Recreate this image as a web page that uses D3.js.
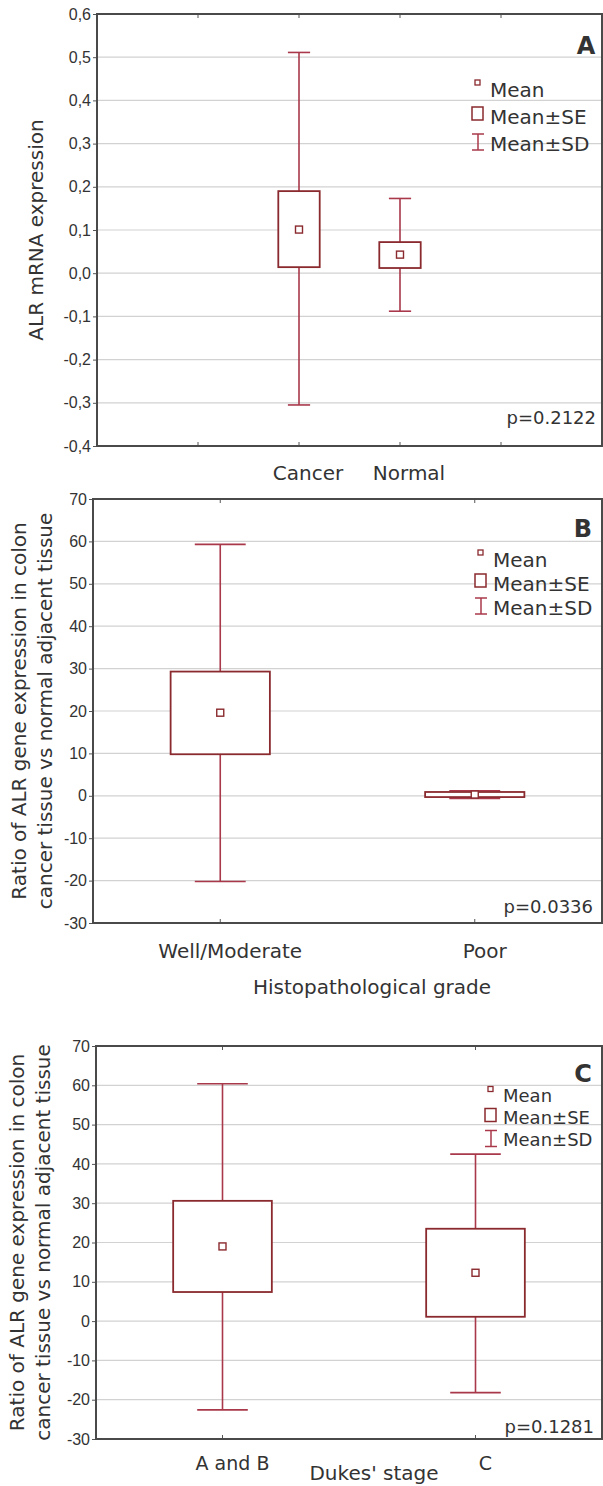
<!DOCTYPE html>
<html>
<head>
<meta charset="utf-8">
<script src="https://cdn.jsdelivr.net/npm/d3@7"></script>
<style>
  body { margin: 0; background: #fff; }
  svg { display: block; }
  text { font-family: "DejaVu Sans", sans-serif; fill: #333; }
  .tick text { font-family: "Liberation Sans", Arial, sans-serif; }
</style>
</head>
<body>
<svg width="603" height="1486"></svg>
<script>
const svg = d3.select("svg");

// Panel A: ALR mRNA expression, Cancer vs Normal (slots 1..4, labels on the middle two)
const slotsA = ["", "Cancer", "Normal", ""];
const groupsA = ["Cancer", "Normal"];
const meanA = [0.101, 0.043];
const seLowA = [0.014, 0.012];
const seHighA = [0.190, 0.072];
const sdLowA = [-0.305, -0.088];
const sdHighA = [0.511, 0.173];
const ticksA = [-0.4, -0.3, -0.2, -0.1, 0.0, 0.1, 0.2, 0.3, 0.4, 0.5, 0.6];

// Panel B: histopathological grade
const groupsB = ["Well/Moderate", "Poor"];
const meanB = [19.6, 0.3];
const seLowB = [9.8, -0.3];
const seHighB = [29.3, 0.9];
const sdLowB = [-20.2, -0.6];
const sdHighB = [59.3, 1.2];
const ticksB = [-30, -20, -10, 0, 10, 20, 30, 40, 50, 60, 70];

// Panel C: Dukes' stage
const groupsC = ["A and B", "C"];
const meanC = [19.0, 12.3];
const seLowC = [7.4, 1.1];
const seHighC = [30.6, 23.5];
const sdLowC = [-22.6, -18.2];
const sdHighC = [60.4, 42.5];
const ticksC = [-30, -20, -10, 0, 10, 20, 30, 40, 50, 60, 70];

const boxColor = "#8a2a2e";
const whiskColor = "#a8384a";

function drawPanel(p) {
  const g = svg.append("g");
  const x = d3.scalePoint().domain(p.slots).range([p.left, p.right]).padding(p.pad);
  const y = d3.scaleLinear().domain(d3.extent(p.ticks)).range([p.bottom, p.top]);

  // grid
  g.append("g").selectAll("line").data(p.ticks.slice(1, -1)).join("line")
    .attr("x1", p.left).attr("x2", p.right)
    .attr("y1", d => y(d)).attr("y2", d => y(d))
    .attr("stroke", "#d2d2d2").attr("stroke-width", 1.2);

  // left axis
  const yAxis = g.append("g").attr("transform", `translate(${p.left},0)`)
    .call(d3.axisLeft(y).tickValues(p.ticks).tickSize(4).tickPadding(2).tickFormat(p.fmt));
  yAxis.select(".domain").remove();
  yAxis.selectAll(".tick line").attr("stroke", "#555");
  yAxis.selectAll(".tick text").attr("font-size", 16).attr("fill", "#333");

  // bottom and top ticks (inward)
  const xs = p.slots.map(s => x(s));
  g.append("g").selectAll("line").data(xs).join("line")
    .attr("x1", d => d).attr("x2", d => d).attr("y1", p.bottom).attr("y2", p.bottom - 4)
    .attr("stroke", "#555");
  g.append("g").selectAll("line").data(xs).join("line")
    .attr("x1", d => d).attr("x2", d => d).attr("y1", p.top).attr("y2", p.top + 4)
    .attr("stroke", "#555");

  // x labels
  g.append("g").selectAll("text").data(p.groups).join("text")
    .attr("x", d => x(d) + p.labelDx).attr("y", p.labelY)
    .attr("text-anchor", "middle").attr("font-size", p.labelSize)
    .text(d => d);

  // whiskers (mean ± SD)
  const step = x.step();
  const bw = step * p.boxFrac / 2;
  const cw = step * p.capFrac / 2;
  const items = p.groups.map((gName, i) => ({
    g: gName, mean: p.mean[i], seL: p.seLow[i], seH: p.seHigh[i], sdL: p.sdLow[i], sdH: p.sdHigh[i]
  }));
  const wk = g.append("g").attr("stroke", whiskColor).attr("stroke-width", 1.6);
  wk.selectAll(".v").data(items).join("line")
    .attr("x1", d => x(d.g)).attr("x2", d => x(d.g))
    .attr("y1", d => y(d.sdL)).attr("y2", d => y(d.sdH));
  wk.selectAll(".ch").data(items).join("line")
    .attr("x1", d => x(d.g) - cw).attr("x2", d => x(d.g) + cw)
    .attr("y1", d => y(d.sdH)).attr("y2", d => y(d.sdH));
  wk.selectAll(".cl").data(items).join("line")
    .attr("x1", d => x(d.g) - cw).attr("x2", d => x(d.g) + cw)
    .attr("y1", d => y(d.sdL)).attr("y2", d => y(d.sdL));

  // boxes (mean ± SE)
  g.append("g").selectAll("rect").data(items).join("rect")
    .attr("x", d => x(d.g) - bw).attr("width", bw * 2)
    .attr("y", d => y(d.seH)).attr("height", d => y(d.seL) - y(d.seH))
    .attr("fill", "#fff").attr("stroke", boxColor).attr("stroke-width", 1.8);

  // mean markers
  g.append("g").selectAll("rect").data(items).join("rect")
    .attr("x", d => x(d.g) - 3.5).attr("y", d => y(d.mean) - 3.5)
    .attr("width", 7).attr("height", 7)
    .attr("fill", "#fff").attr("stroke", boxColor).attr("stroke-width", 1.4);

  // frame
  g.append("rect").attr("x", p.left).attr("y", p.top)
    .attr("width", p.right - p.left).attr("height", p.bottom - p.top)
    .attr("fill", "none").attr("stroke", "#4a4a4a").attr("stroke-width", 2);

  // panel letter
  g.append("text").attr("x", p.letterX).attr("y", p.letterY)
    .attr("text-anchor", "middle").attr("font-size", 24).attr("font-weight", "bold")
    .attr("fill", "#111").text(p.letter);

  // p value
  g.append("text").attr("x", p.pX).attr("y", p.pY).attr("text-anchor", "end")
    .attr("font-size", 18).text(p.pText);

  // legend
  const lg = g.append("g").attr("transform", `translate(${p.legX},${p.legY})`);
  const ls = p.legSize;
  lg.append("rect").attr("x", -3).attr("y", -ls * 0.75).attr("width", 5).attr("height", 5)
    .attr("fill", "#fff").attr("stroke", boxColor).attr("stroke-width", 1.3);
  lg.append("rect").attr("x", -6).attr("y", p.legGap - ls * 0.75).attr("width", 11).attr("height", 13)
    .attr("fill", "#fff").attr("stroke", boxColor).attr("stroke-width", 1.5);
  const iy = p.legGap * 2 - ls * 0.75;
  lg.append("line").attr("x1", 0).attr("x2", 0).attr("y1", iy).attr("y2", iy + 16)
    .attr("stroke", whiskColor).attr("stroke-width", 1.5);
  lg.append("line").attr("x1", -6).attr("x2", 6).attr("y1", iy).attr("y2", iy)
    .attr("stroke", whiskColor).attr("stroke-width", 1.5);
  lg.append("line").attr("x1", -6).attr("x2", 6).attr("y1", iy + 16).attr("y2", iy + 16)
    .attr("stroke", whiskColor).attr("stroke-width", 1.5);
  lg.selectAll("text").data(["Mean", "Mean±SE", "Mean±SD"]).join("text")
    .attr("x", 12).attr("y", (d, i) => i * p.legGap + 2)
    .attr("font-size", ls).text(d => d);

  // y title
  const yt = g.append("text").attr("transform", `translate(${p.yTitleX},${(p.top + p.bottom) / 2}) rotate(-90)`)
    .attr("text-anchor", "middle").attr("font-size", 20);
  p.yTitle.forEach((t, i) => {
    yt.append("tspan").attr("x", 0).attr("y", i * p.yTitleGap).text(t);
  });

  if (p.xTitle) {
    g.append("text").attr("x", p.xTitleX).attr("y", p.xTitleY).attr("text-anchor", "middle")
      .attr("font-size", 20).text(p.xTitle);
  }
}

const commaFmt = d => d3.format(".1f")(d).replace(".", ",").replace("\u2212", "-");
const intFmt = d => d3.format("d")(d).replace("\u2212", "-");

drawPanel({
  slots: slotsA.map((s, i) => s || ("slot" + i)), groups: groupsA,
  mean: meanA, seLow: seLowA, seHigh: seHighA, sdLow: sdLowA, sdHigh: sdHighA,
  ticks: ticksA, fmt: commaFmt,
  left: 97, right: 602, top: 14, bottom: 446, pad: 1,
  boxFrac: 0.41, capFrac: 0.22,
  labelY: 480, labelDx: 9, labelSize: 20,
  letter: "A", letterX: 586, letterY: 54,
  pText: "p=0.2122", pX: 596, pY: 424,
  legX: 478, legY: 95, legGap: 27, legSize: 20,
  yTitle: ["ALR mRNA expression"], yTitleX: 43, yTitleGap: 0
});

drawPanel({
  slots: groupsB, groups: groupsB,
  mean: meanB, seLow: seLowB, seHigh: seHighB, sdLow: sdLowB, sdHigh: sdHighB,
  ticks: ticksB, fmt: intFmt,
  left: 93, right: 602, top: 499, bottom: 923, pad: 0.5,
  boxFrac: 0.39, capFrac: 0.2,
  labelY: 958, labelDx: 10, labelSize: 20,
  letter: "B", letterX: 583, letterY: 537,
  pText: "p=0.0336", pX: 593, pY: 913,
  legX: 481, legY: 565, legGap: 24, legSize: 20,
  yTitle: ["Ratio of ALR gene expression in colon", "cancer tissue vs normal adjacent tissue"],
  yTitleX: 26, yTitleGap: 26,
  xTitle: "Histopathological grade", xTitleX: 372, xTitleY: 994
});

drawPanel({
  slots: groupsC, groups: groupsC,
  mean: meanC, seLow: seLowC, seHigh: seHighC, sdLow: sdLowC, sdHigh: sdHighC,
  ticks: ticksC, fmt: intFmt,
  left: 96, right: 602, top: 1046, bottom: 1439, pad: 0.5,
  boxFrac: 0.39, capFrac: 0.2,
  labelY: 1470, labelDx: 10, labelSize: 19,
  letter: "C", letterX: 583, letterY: 1082,
  pText: "p=0.1281", pX: 594, pY: 1433,
  legX: 491, legY: 1100, legGap: 22, legSize: 18,
  yTitle: ["Ratio of ALR gene expression in colon", "cancer tissue vs normal adjacent tissue"],
  yTitleX: 24, yTitleGap: 26,
  xTitle: "Dukes' stage", xTitleX: 374, xTitleY: 1480
});
</script>
</body>
</html>
